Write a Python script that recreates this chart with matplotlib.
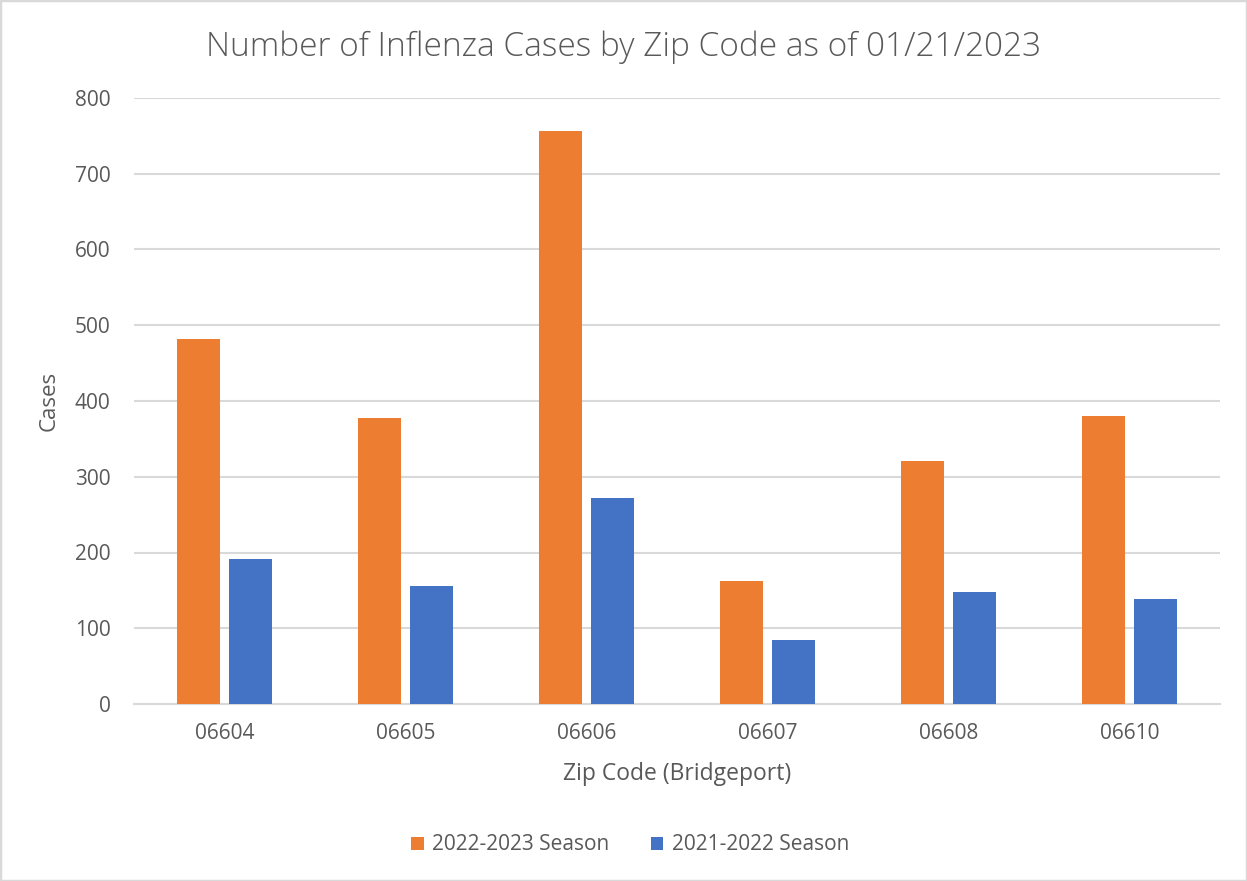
import matplotlib
matplotlib.use("Agg")
import matplotlib.pyplot as plt
import numpy as np

zip_codes = ["06604", "06605", "06606", "06607", "06608", "06610"]
season_2022_2023 = [482, 378, 756, 162, 321, 380]
season_2021_2022 = [191, 156, 272, 85, 148, 139]
series_labels = ["2022-2023 Season", "2021-2022 Season"]
y_ticks = [0, 100, 200, 300, 400, 500, 600, 700, 800]

plt.rcParams['font.family'] = ['Open Sans', 'DejaVu Sans']
text_color = "#595959"
grid_color = "#d9d9d9"

fig = plt.figure(figsize=(12.47, 8.81), dpi=100)
ax = fig.add_axes([134/1247, 1-704/881, (1220-134)/1247, (704-98)/881])

x = np.arange(len(zip_codes))
w = 0.238
off = 0.144
ax.bar(x - off, season_2022_2023, width=w, color="#ED7D31", label=series_labels[0], zorder=3)
ax.bar(x + off, season_2021_2022, width=w, color="#4472C4", label=series_labels[1], zorder=3)

ax.set_xlim(-0.5, len(zip_codes) - 0.5)
ax.set_ylim(0, 800)
ax.set_yticks(y_ticks)
ax.set_xticks(x)
ax.set_xticklabels(zip_codes)
ax.yaxis.grid(True, color=grid_color, linewidth=1.5, zorder=0)
ax.set_axisbelow(True)
for s in ["top", "right", "left"]:
    ax.spines[s].set_visible(False)
ax.spines["bottom"].set_color(grid_color)
ax.spines["bottom"].set_linewidth(1.5)
ax.tick_params(axis="both", length=0, labelsize=15, colors=text_color)
ax.tick_params(axis="y", pad=17)
ax.tick_params(axis="x", pad=14)

ax.set_xlabel("Zip Code (Bridgeport)", fontsize=16.5, color=text_color, labelpad=13)
ax.set_ylabel("Cases", fontsize=16, color=text_color, labelpad=11)

fig.text(624/1247, 1-47/881, "Number of Inflenza Cases by Zip Code as of 01/21/2023",
         ha="center", va="center", fontsize=24, color=text_color, fontweight="light")

ax.legend(loc="center", bbox_to_anchor=(630/1247, 1-845/881), bbox_transform=fig.transFigure,
          ncol=2, frameon=False, fontsize=15, labelcolor=text_color,
          handlelength=0.6, handleheight=0.6, handletextpad=0.4, columnspacing=2.0)

fig.patches.append(matplotlib.patches.Rectangle((0, 0), 1, 1, transform=fig.transFigure,
                   fill=False, edgecolor=grid_color, linewidth=2.5))

fig.savefig("out.png", dpi=100)
